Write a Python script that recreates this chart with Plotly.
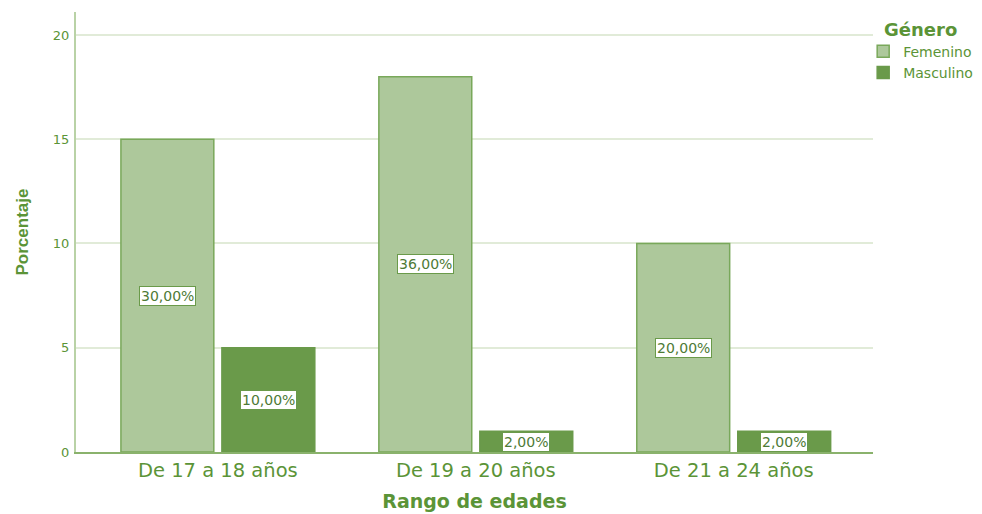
import plotly.graph_objects as go

categories = ["De 17 a 18 años", "De 19 a 20 años", "De 21 a 24 años"]
femenino = [15, 18, 10]
masculino = [5, 1, 1]
fem_labels = ["30,00%", "36,00%", "20,00%"]
masc_labels = ["10,00%", "2,00%", "2,00%"]
y_ticks = [0, 5, 10, 15, 20]

FONT = "Liberation Sans, Arial, sans-serif"
WIDE = "DejaVu Sans, Verdana, sans-serif"
GREEN_TXT = "#5b9437"
LABEL_TXT = "#4e7a36"
LIGHT = "#adc89b"
DARK = "#6a9a4a"
EDGE = "#79a85a"

fig = go.Figure()
fig.add_trace(go.Bar(x=categories, y=femenino, name="Femenino",
                     marker=dict(color=LIGHT, line=dict(color=EDGE, width=1.5))))
fig.add_trace(go.Bar(x=categories, y=masculino, name="Masculino",
                     marker=dict(color=DARK, line=dict(color=DARK, width=1.5))))

for cat, v, lab in zip(categories, femenino, fem_labels):
    fig.add_annotation(x=cat, y=v / 2, text=lab, showarrow=False, xshift=-50.5,
                       bgcolor="white", bordercolor=DARK, borderwidth=1, borderpad=1,
                       font=dict(family=WIDE, size=14, color=LABEL_TXT))
for cat, v, lab in zip(categories, masculino, masc_labels):
    fig.add_annotation(x=cat, y=v / 2, text=lab, showarrow=False, xshift=50.5,
                       bgcolor="white", bordercolor=DARK, borderwidth=1, borderpad=1,
                       font=dict(family=WIDE, size=14, color=LABEL_TXT))

fig.update_layout(
    width=982, height=514,
    margin=dict(l=76, r=109, t=12, b=62, autoexpand=False),
    paper_bgcolor="white", plot_bgcolor="white",
    barmode="group", bargap=0.217, bargroupgap=0.08,
    font=dict(family=FONT, color=GREEN_TXT),
    legend=dict(
        title=dict(text="<b>Género</b>", font=dict(family=WIDE, size=18, color=GREEN_TXT),
                   side="top center"),
        xref="container", yref="container",
        x=0.879, xanchor="left", y=0.976, yanchor="top",
        font=dict(family=WIDE, size=14, color=GREEN_TXT), itemwidth=30,
        tracegroupgap=0, bgcolor="rgba(0,0,0,0)",
    ),
    xaxis=dict(
        range=[-0.55, 2.54], automargin=False,
        tickfont=dict(family=WIDE, size=19.5, color=GREEN_TXT),
        title=dict(text="<b>Rango de edades</b>", font=dict(family=WIDE, size=19, color=GREEN_TXT), standoff=14),
        showline=True, linecolor="#8ab26c", linewidth=1.5,
        ticks="", showgrid=False,
    ),
    yaxis=dict(
        range=[0, 21.1], tickvals=y_ticks, automargin=False,
        tickfont=dict(family=WIDE, size=13, color=GREEN_TXT),
        title=dict(text="<b>Porcentaje</b>", font=dict(family=FONT, size=17, color=GREEN_TXT), standoff=20),
        showline=True, linecolor="#b9d2a6", linewidth=2,
        gridcolor="#e1ebd8", gridwidth=1.5, zeroline=False, ticks="",
        ticklabelstandoff=2,
    ),
)

fig.write_html("out.html", config={"displayModeBar": False},
               post_script="document.body.style.margin='0';")
